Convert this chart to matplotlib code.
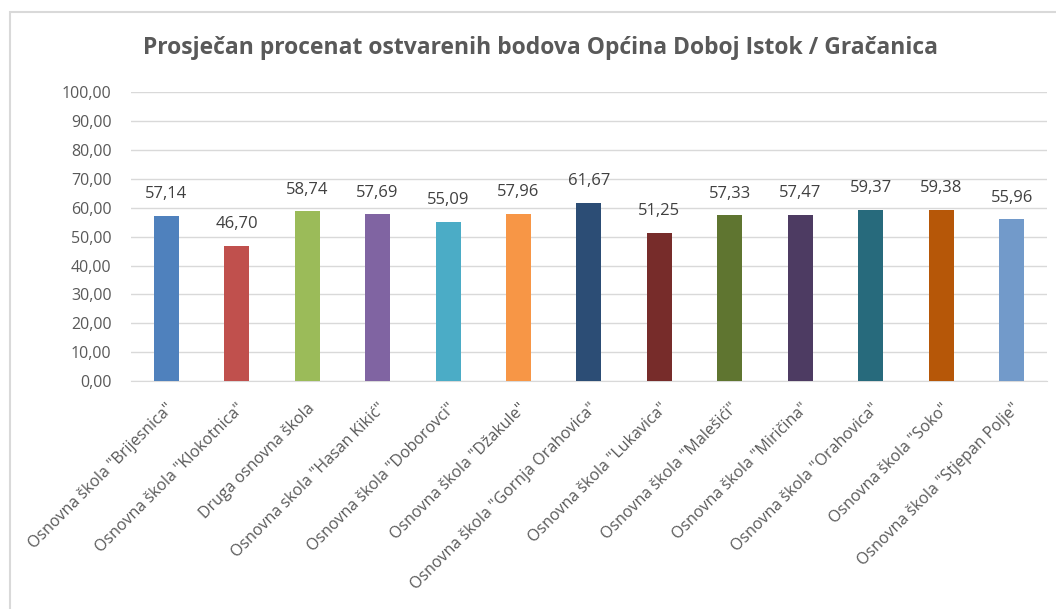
import matplotlib.pyplot as plt
from matplotlib.patches import Rectangle
from matplotlib.ticker import FuncFormatter

# data
schools = ['Osnovna škola "Brijesnica"', 'Osnovna škola "Klokotnica"', 'Druga osnovna škola',
           'Osnovna skola "Hasan Kikić"', 'Osnovna škola "Doborovci"', 'Osnovna škola "Džakule"',
           'Osnovna škola "Gornja Orahovica"', 'Osnovna škola "Lukavica"', 'Osnovna škola "Malešići"',
           'Osnovna škola "Miričina"', 'Osnovna škola "Orahovica"', 'Osnovna škola "Soko"',
           'Osnovna škola "Stjepan Polje"']
scores = [57.14, 46.70, 58.74, 57.69, 55.09, 57.96, 61.67, 51.25, 57.33, 57.47, 59.37, 59.38, 55.96]
bar_colors = ['#4F81BD', '#C0504D', '#9BBB59', '#8064A2', '#4BACC6', '#F79646', '#2C4D75',
              '#772C2A', '#5F7530', '#4D3B62', '#276A7C', '#B65708', '#729ACA']

plt.rcParams['font.family'] = ['Open Sans', 'DejaVu Sans']

fig = plt.figure(figsize=(10.56, 6.09), dpi=100)
ax = fig.add_axes([0.124, 0.3744, 0.8675, 0.474])

# chart area border
fig.patches.append(Rectangle((10 / 1056, -0.1), 1.2, 1 - 12 / 609 + 0.1, transform=fig.transFigure,
                             fill=False, edgecolor='#D9D9D9', linewidth=1.5))

x = range(len(schools))
bars = ax.bar(x, scores, width=0.355, color=bar_colors, zorder=3)

for xi, v in zip(x, scores):
    ax.annotate(f'{v:.2f}'.replace('.', ','), (xi, v), xytext=(0, 10), textcoords='offset points',
                ha='center', va='bottom', fontsize=12, color='#404040')

ax.set_xlim(-0.5, len(schools) - 0.5)
ax.set_ylim(0, 100)
ax.set_yticks(range(0, 101, 10))
ax.yaxis.set_major_formatter(FuncFormatter(lambda v, p: f'{v:.2f}'.replace('.', ',')))
ax.grid(axis='y', color='#D9D9D9', linewidth=1, zorder=0)
ax.set_xticks(list(x))
ax.set_xticklabels(schools, rotation=45, ha='right', rotation_mode='anchor')
ax.tick_params(length=0, labelsize=11.5, labelcolor='#595959')
ax.tick_params(axis='x', pad=14)
ax.tick_params(axis='y', pad=14)
for s in ['top', 'right', 'left']:
    ax.spines[s].set_visible(False)
ax.spines['bottom'].set_color('#D9D9D9')

fig.text(0.512, 0.922, 'Prosječan procenat ostvarenih bodova Općina Doboj Istok / Gračanica',
         ha='center', va='center', fontsize=16.5, fontweight='bold', color='#595959')

fig.savefig('out.png', dpi=100)
